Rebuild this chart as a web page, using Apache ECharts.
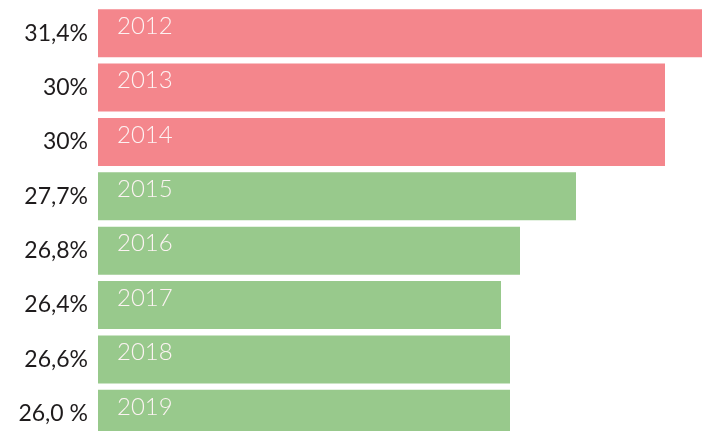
<!DOCTYPE html>
<html>
<head>
<meta charset="utf-8">
<script src="https://cdn.jsdelivr.net/npm/echarts@6/dist/echarts.min.js"></script>
<style>
  html, body { margin: 0; padding: 0; background: #fff; }
  #chart { width: 702px; height: 431px; }
</style>
</head>
<body>
<div id="chart"></div>
<script>
// years shown inside the bars, top to bottom
var years = ['2012', '2013', '2014', '2015', '2016', '2017', '2018', '2019'];
// percentage labels on the left
var rateLabels = ['31,4%', '30%', '30%', '27,7%', '26,8%', '26,4%', '26,6%', '26,0 %'];
// bar lengths as drawn in the picture (arbitrary units, 2012 = full width)
var barValues = [604, 567, 567, 478, 422, 403, 412, 412];
// first three bars are red, the rest green
var barColors = ['#f4868c', '#f4868c', '#f4868c', '#98c98c', '#98c98c', '#98c98c', '#98c98c', '#98c98c'];

var myChart = echarts.init(document.getElementById('chart'));

var seriesData = barValues.map(function(v, i) {
    return {
        value: v,
        name: years[i],
        itemStyle: { color: barColors[i] }
    };
});

var option = {
    animation: false,
    grid: {
        left: 98,
        right: 0,
        top: 6,
        height: 435,
        outerBoundsMode: 'none'
    },
    xAxis: {
        type: 'value',
        min: 0,
        max: 604,
        show: false
    },
    yAxis: {
        type: 'category',
        inverse: true,
        data: rateLabels,
        axisLine: { show: false },
        axisTick: { show: false },
        splitLine: { show: false },
        axisLabel: {
            margin: 10,
            color: '#1e1b1c',
            fontFamily: 'Lato',
            fontSize: 23,
            padding: [0, 0, 5, 0]
        }
    },
    series: [{
        type: 'bar',
        barWidth: 48,
        data: seriesData,
        label: {
            show: true,
            position: 'insideLeft',
            distance: 19,
            offset: [0, -7],
            formatter: '{b}',
            color: '#fdf3f3',
            fontFamily: 'Lato',
            fontWeight: 300,
            fontSize: 24
        }
    }]
};

myChart.setOption(option);
window.addEventListener('resize', function() { myChart.resize(); });
</script>
</body>
</html>
